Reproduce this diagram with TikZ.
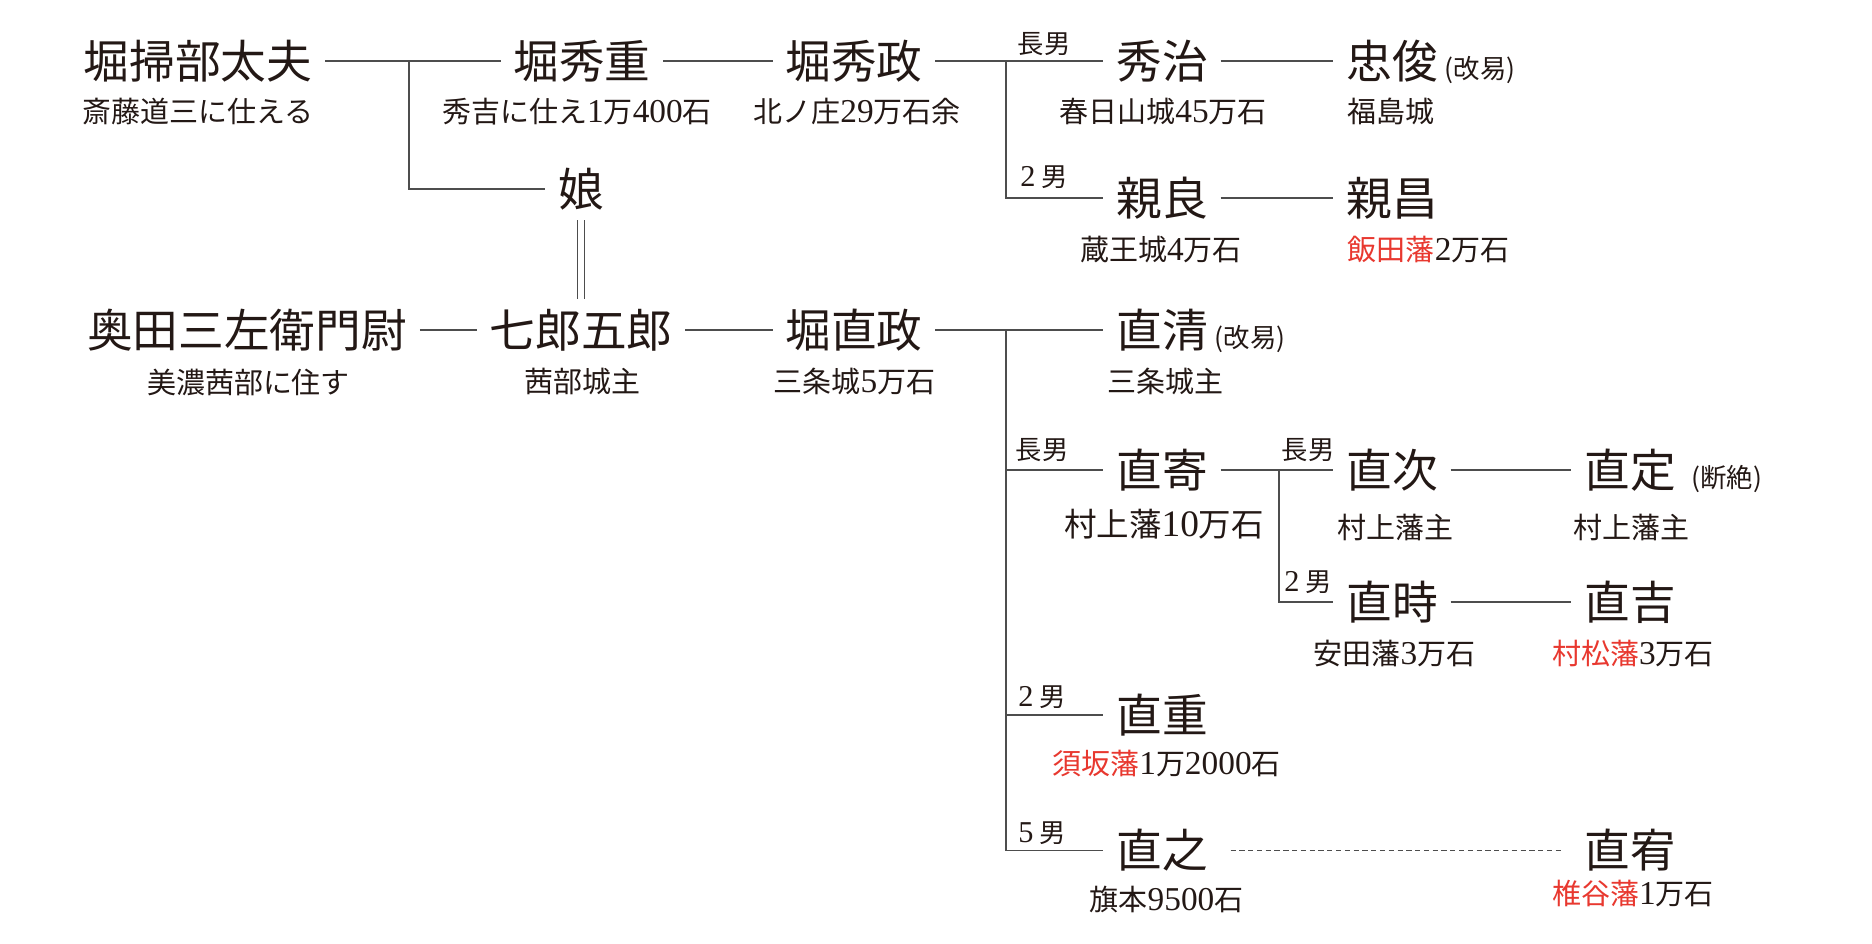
\documentclass[tikz,border=0pt]{standalone}
\usepackage{fontspec}
\setmainfont{Noto Sans CJK JP}
\newfontfamily\cifra[Scale=1.15]{Liberation Serif}
\newcommand{\cif}[1]{{\cifra #1}}
\definecolor{tinta}{HTML}{231815}
\definecolor{rojo}{HTML}{E8382F}
\definecolor{linea}{HTML}{4D4D4D}

\begin{document}
\begin{tikzpicture}
% Estilos para el arbol
\tikzstyle{persona} = [inner xsep=0.25cm, inner ysep=0.2cm, font=\fontsize{26}{26}\selectfont, text=tinta]
\tikzstyle{dato} = [inner sep=0pt, font=\fontsize{16.5}{16.5}\selectfont, text=tinta]
\tikzstyle{hijo} = [inner sep=0pt, font=\fontsize{15}{15}\selectfont, text=tinta]
\tikzstyle{nota} = [inner sep=0pt, font=\fontsize{15}{15}\selectfont, text=tinta]
\tikzstyle{rama} = [line width=0.8pt, draw=linea]

\useasboundingbox (0,0) rectangle (37.44,18.88);

% Primera generacion
\node[persona] (kamon) at (3.96,17.66) {堀掃部太夫};
\node[dato] (kamon-d) at (3.96,16.65) {斎藤道三に仕える};

\node[persona] (hideshige) at (11.64,17.66) {堀秀重};
\node[dato] (hideshige-d) at (11.54,16.65) {秀吉に仕え\cif{1}万\cif{400}石};

\node[persona] (musume) at (11.62,15.10) {娘};

\node[persona] (hidemasa) at (17.08,17.66) {堀秀政};
\node[dato] (hidemasa-d) at (17.14,16.65) {北ノ庄\cif{29}万石余};

% Hijos de Hidemasa
\node[persona] (hideharu) at (23.24,17.66) {秀治};
\node[dato] (hideharu-d) at (23.26,16.65) {春日山城\cif{45}万石};

\node[persona] (tadatoshi) at (27.84,17.66) {忠俊};
\node[nota, anchor=base west] (tadatoshi-n) at ([xshift=-0.12cm]tadatoshi.base east) {(改易)};
\node[dato, anchor=west] (tadatoshi-d) at (26.95,16.65) {福島城};

\node[persona] (chikayoshi) at (23.24,14.92) {親良};
\node[dato] (chikayoshi-d) at (23.22,13.89) {蔵王城\cif{4}万石};

\node[persona] (chikamasa) at (27.84,14.92) {親昌};
\node[dato, anchor=west] (chikamasa-d) at (26.95,13.89) {{\color{rojo}飯田藩}\cif{2}万石};

% Segunda rama
\node[persona] (okuda) at (4.94,12.28) {奥田三左衛門尉};
\node[dato] (okuda-d) at (4.97,11.24) {美濃茜部に住す};

\node[persona] (shichiro) at (11.62,12.28) {七郎五郎};
\node[dato] (shichiro-d) at (11.64,11.24) {茜部城主};

\node[persona] (naomasa) at (17.08,12.28) {堀直政};
\node[dato] (naomasa-d) at (17.09,11.24) {三条城\cif{5}万石};

% Hijos de Naomasa
\node[persona] (naokiyo) at (23.24,12.28) {直清};
\node[nota, anchor=base west] (naokiyo-n) at ([xshift=-0.12cm]naokiyo.base east) {(改易)};
\node[dato] (naokiyo-d) at (23.30,11.24) {三条城主};

\node[persona] (naoyori) at (23.24,9.48) {直寄};
\node[dato, font=\fontsize{18.5}{18.5}\selectfont] (naoyori-d) at (23.28,8.40) {村上藩\cif{10}万石};

\node[persona] (naotsugu) at (27.84,9.48) {直次};
\node[dato] (naotsugu-d) at (27.91,8.32) {村上藩主};

\node[persona] (naosada) at (32.60,9.48) {直定};
\node[nota, anchor=base west] (naosada-n) at ([xshift=0.05cm]naosada.base east) {(断絶)};
\node[dato] (naosada-d) at (32.63,8.32) {村上藩主};

\node[persona] (naotoki) at (27.84,6.84) {直時};
\node[dato] (naotoki-d) at (27.89,5.80) {安田藩\cif{3}万石};

\node[persona] (naoyoshi) at (32.60,6.84) {直吉};
\node[dato] (naoyoshi-d) at (32.66,5.80) {{\color{rojo}村松藩}\cif{3}万石};

\node[persona] (naoshige) at (23.24,4.58) {直重};
\node[dato] (naoshige-d) at (23.33,3.60) {{\color{rojo}須坂藩}\cif{1}万\cif{2000}石};

\node[persona] (naoyuki) at (23.24,1.87) {直之};
\node[dato] (naoyuki-d) at (23.33,0.88) {旗本\cif{9500}石};

\node[persona] (naoari) at (32.60,1.87) {直宥};
\node[dato] (naoari-d) at (32.66,1.00) {{\color{rojo}椎谷藩}\cif{1}万石};

% Etiquetas de orden
\node[hijo] (h1) at (20.88,18.00) {長男};
\node[hijo] (h2) at (20.88,15.33) {\cif{2} 男};
\node[hijo] (h3) at (20.84,9.88) {長男};
\node[hijo] (h4) at (26.16,9.88) {長男};
\node[hijo] (h5) at (26.16,7.24) {\cif{2} 男};
\node[hijo] (h6) at (20.84,4.94) {\cif{2} 男};
\node[hijo] (h7) at (20.84,2.22) {\cif{5} 男};

% Conexiones
\coordinate (r1) at (8.18,17.66);
\coordinate (r2) at (20.12,17.66);
\coordinate (r3) at (20.12,12.28);
\coordinate (r4) at (25.58,9.48);

\draw[rama] (kamon.east) -- (hideshige.west);
\draw[rama] (r1) |- (musume.west);
\draw[rama] (hideshige.east) -- (hidemasa.west);
\draw[rama] (hidemasa.east) -- (hideharu.west);
\draw[rama] (r2) |- (chikayoshi.west);
\draw[rama] (hideharu.east) -- (tadatoshi.west);
\draw[rama] (chikayoshi.east) -- (chikamasa.west);
\draw[rama, line width=0.7pt, double, double distance=0.13cm] (musume.south) -- (shichiro.north);

\draw[rama] (okuda.east) -- (shichiro.west);
\draw[rama] (shichiro.east) -- (naomasa.west);
\draw[rama] (naomasa.east) -- (naokiyo.west);
\draw[rama] (r3) |- (naoyori.west);
\draw[rama] (r3) |- (naoshige.west);
\draw[rama] (r3) |- (naoyuki.west);
\draw[rama] (naoyori.east) -- (naotsugu.west);
\draw[rama] (r4) |- (naotoki.west);
\draw[rama] (naotsugu.east) -- (naosada.west);
\draw[rama] (naotoki.east) -- (naoyoshi.west);
\draw[rama, line width=0.9pt, dash pattern=on 3pt off 2pt, shorten <=0.2cm, shorten >=0.2cm] (naoyuki.east) -- (naoari.west);
\end{tikzpicture}
\end{document}
